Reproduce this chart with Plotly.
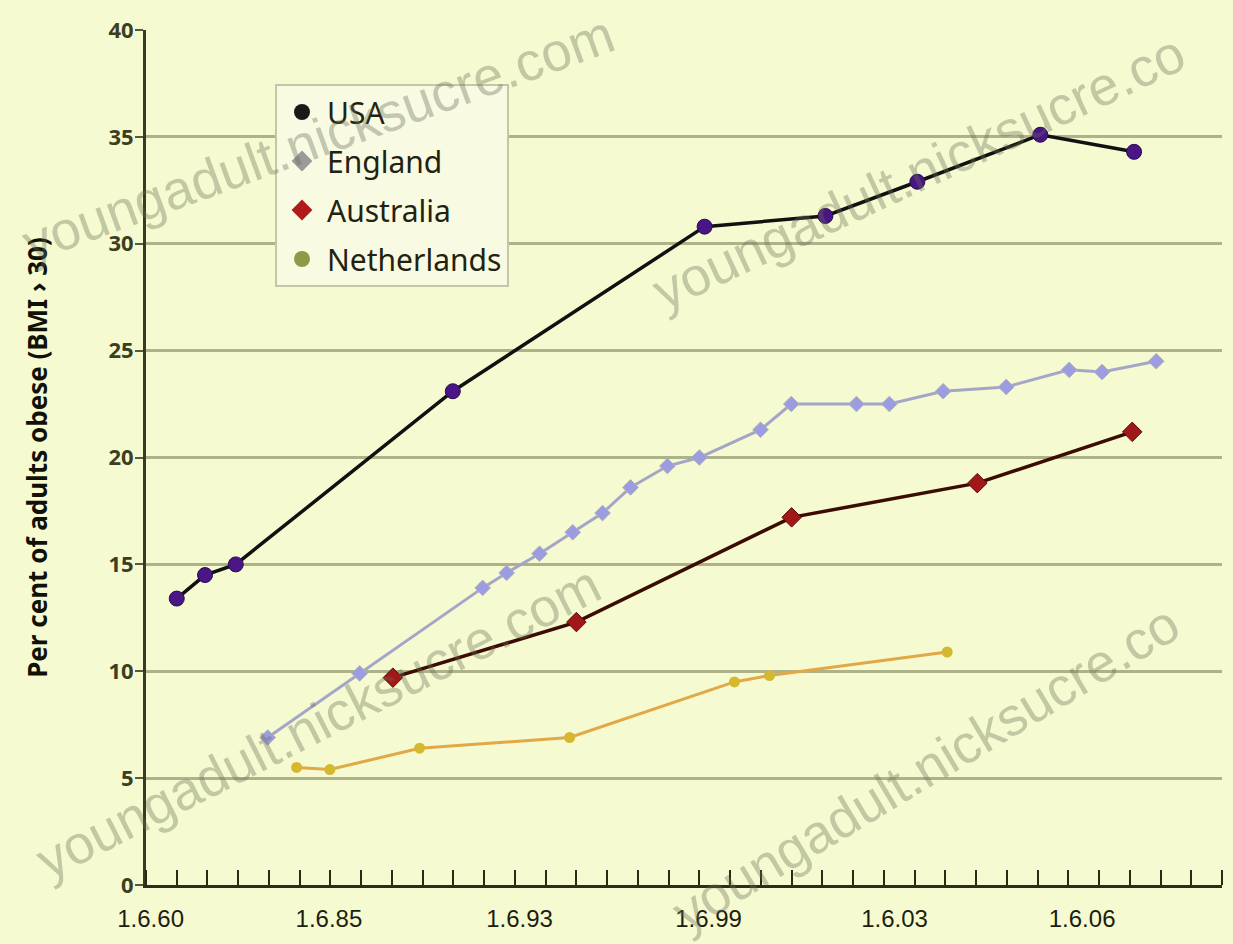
import plotly.graph_objects as go

# ---- data (x in axis units: one unit per minor tick) ----
x_tick_pos = [0.15, 5.95, 12.15, 18.3, 24.35, 30.45]
x_tick_labels = ["1.6.60", "1.6.85", "1.6.93", "1.6.99", "1.6.03", "1.6.06"]

usa_x = [1.0, 1.92, 2.92, 9.98, 18.17, 22.1, 25.09, 29.09, 32.14]
usa_y = [13.4, 14.5, 15.0, 23.1, 30.8, 31.3, 32.9, 35.1, 34.3]

eng_x = [3.96, 6.95, 10.95, 11.73, 12.8, 13.88, 14.85, 15.76, 16.96, 18.0,
         19.99, 20.99, 23.11, 24.18, 25.93, 27.98, 30.03, 31.1, 32.86]
eng_y = [6.9, 9.9, 13.9, 14.6, 15.5, 16.5, 17.4, 18.6, 19.6, 20.0,
         21.3, 22.5, 22.5, 22.5, 23.1, 23.3, 24.1, 24.0, 24.5]

aus_x = [8.03, 14.0, 21.0, 27.04, 32.08]
aus_y = [9.7, 12.3, 17.2, 18.8, 21.2]

ned_x = [4.9, 5.98, 8.9, 13.78, 19.14, 20.28, 26.06]
ned_y = [5.5, 5.4, 6.4, 6.9, 9.5, 9.8, 10.9]

y_ticks = [0, 5, 10, 15, 20, 25, 30, 35, 40]

# ---- layout geometry ----
W, H = 1233, 944
ML, MR, MT, MB = 146, 11, 30, 59
PW, PH = W - ML - MR, H - MT - MB


def px(xp):
    return (xp - ML) / PW


def py(yp):
    return (H - MB - yp) / PH


BG = "#F5FAD0"
fig = go.Figure()

# data traces
fig.add_trace(go.Scatter(x=eng_x, y=eng_y, mode="lines+markers", showlegend=False,
                         line=dict(color="#A4A6C8", width=3),
                         marker=dict(symbol="diamond", size=12, color="#9C9CE0",
                                     line=dict(color="#B0B0B8", width=1))))
fig.add_trace(go.Scatter(x=ned_x, y=ned_y, mode="lines+markers", showlegend=False,
                         line=dict(color="#E2A846", width=3),
                         marker=dict(symbol="circle", size=11, color="#D6B830")))
fig.add_trace(go.Scatter(x=aus_x, y=aus_y, mode="lines+markers", showlegend=False,
                         line=dict(color="#3A0C04", width=3.5),
                         marker=dict(symbol="diamond", size=15, color="#A01818",
                                     line=dict(color="#5A0A0A", width=1))))
fig.add_trace(go.Scatter(x=usa_x, y=usa_y, mode="lines+markers", showlegend=False,
                         line=dict(color="#111111", width=3.5),
                         marker=dict(symbol="circle", size=15, color="#4A1585",
                                     line=dict(color="#2A0A50", width=1))))

# legend-only entries (markers only)
leg = [("USA", "circle", "#1A1A1A"),
       ("England", "diamond", "#9A9A9A"),
       ("Australia", "diamond", "#B01A1A"),
       ("Netherlands", "circle", "#8E9A48")]
for i, (name, sym, col) in enumerate(leg):
    fig.add_trace(go.Scatter(x=[None], y=[None], mode="markers", name=name,
                             legendgroup=f"g{i}",
                             marker=dict(symbol=sym, size=16, color=col)))

# watermark text
wm_color = "rgba(105,108,85,0.36)"
wms = [("youngadult.nicksucre.com", 318, 138, -20),
       ("youngadult.nicksucre.co", 918, 172, -25),
       ("youngadult.nicksucre.com", 318, 722, -27),
       ("youngadult.nicksucre.co", 925, 768, -31)]
for txt, cx, cy, ang in wms:
    fig.add_annotation(text=txt, xref="paper", yref="paper", x=px(cx), y=py(cy),
                       xanchor="center", yanchor="middle", showarrow=False,
                       textangle=ang,
                       font=dict(family="Liberation Sans", size=54, color=wm_color))

fig.update_layout(
    width=W, height=H,
    margin=dict(l=ML, r=MR, t=MT, b=MB),
    paper_bgcolor=BG, plot_bgcolor=BG,
    font=dict(family="Noto Sans", color="#222211"),
    legend=dict(x=px(275), y=py(84), xanchor="left", yanchor="top",
                bgcolor="#F8FBE2", bordercolor="#C4C6A4", borderwidth=2,
                font=dict(size=30, color="#222211", family="Noto Sans"),
                tracegroupgap=7, itemwidth=40),
    xaxis=dict(range=[0, 35], tickmode="array", tickvals=x_tick_pos,
               ticktext=x_tick_labels, ticks="", showgrid=False, zeroline=False,
               showline=True, linecolor="#2E2E18", linewidth=3,
               ticklabelstandoff=10,
               tickfont=dict(family="Liberation Sans Narrow, Liberation Sans", size=24,
                             color="#1E1E10"),
               minor=dict(ticks="inside", tick0=0, dtick=1, ticklen=15,
                          tickcolor="#2A2A16", tickwidth=2, showgrid=False)),
    yaxis=dict(range=[0, 40], tickmode="array", tickvals=y_ticks,
               ticks="outside", ticklen=8, tickcolor="#55583A", tickwidth=2,
               showgrid=True, gridcolor="#AEB288", gridwidth=3, zeroline=False,
               showline=True, linecolor="#3A3A20", linewidth=3,
               ticklabelstandoff=-3,
               tickfont=dict(family="Noto Sans", size=22, color="#3C3E22", weight="bold"),
               title=dict(text="Per cent of adults obese (BMI › 30)", standoff=54,
                          font=dict(family="Noto Sans", size=26, color="#111108",
                                    weight="bold"))),
)

fig.write_html("out.html")
